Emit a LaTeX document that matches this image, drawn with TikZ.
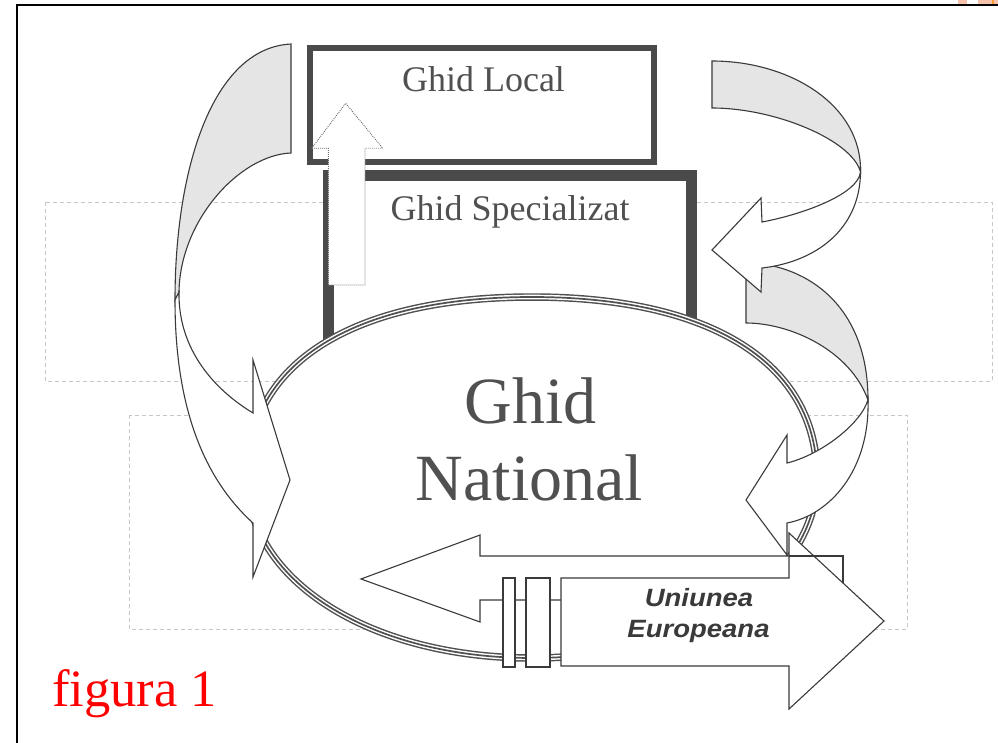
\documentclass[tikz,border=0pt]{standalone}
\usepackage{fontspec}
\setmainfont{Liberation Serif}
\newfontfamily\uefont[FakeStretch=1.1]{Liberation Sans}
\definecolor{inkc}{HTML}{505050}
\definecolor{boxc}{HTML}{4A4A4A}
\definecolor{bandc}{HTML}{E5E5E5}
\definecolor{linec}{HTML}{3A3A3A}
\definecolor{dashc}{HTML}{C6C6C6}
\definecolor{dotc}{HTML}{6A6A6A}
\definecolor{salmonc}{HTML}{F7C2AC}
\definecolor{figred}{HTML}{FF0000}
\newcommand{\GNpath}{(532,297) .. controls (711.6,297) and (817,363.6) .. (817,477) .. controls (817,580.2) and (694.5,658) .. (532,658) .. controls (369.5,658) and (247,580.2) .. (247,477) .. controls (247,363.6) and (352.4,297) .. cycle}
\tikzset{
  outl/.style={draw=linec, line width=1.1pt, line join=miter, miter limit=25},
  frontpart/.style={outl, fill=white},
  backpart/.style={outl, fill=bandc},
  dashrect/.style={draw=dashc, line width=0.8pt, dash pattern=on 4pt off 3pt},
  thickbox/.style={draw=boxc, fill=white},
  dotarrow/.style={draw=dotc, line width=0.9pt, dash pattern=on 0.9pt off 1.1pt, fill=white},
  gtext/.style={text=inkc, inner sep=0pt, anchor=base},
}
\begin{document}
\begin{tikzpicture}[x=1pt,y=-1pt]
\useasboundingbox (0,0) rectangle (998,743);
\fill[white] (0,0) rectangle (998,743);
% scan artefacts at the top right
\fill[salmonc] (958,0) rectangle (967,4);
\fill[salmonc] (978,0) rectangle (998,4);
\fill[orange!80] (992,0) rectangle (994,4);
% frame
\draw[black, line width=2pt] (16,5) -- (998,5);
\draw[black, line width=1.6pt] (17,4) -- (17,743);
% dashed placeholder rectangles
\draw[dashrect] (45,202) rectangle (992,381);
\draw[dashrect] (129,415) rectangle (907,629);
% boxes
\draw[thickbox, line width=11pt] (328.5,175.5) rectangle (691.5,430);
\draw[thickbox, line width=6pt] (310.3,48) rectangle (654,162);
% Ghid National ellipse (triple line)
\fill[white] \GNpath;
\draw[inkc, line width=7.5pt] \GNpath;
\draw[white, line width=4.6pt] \GNpath;
\draw[inkc, line width=1.7pt] \GNpath;
% dotted up arrow
\draw[dotarrow] (328.3,285) -- (328.3,148.3) -- (311.7,148.3) -- (345.7,103.3) -- (382.7,148.3) -- (365,148.3) -- (365,285) -- cycle;
% texts
\node[gtext, font=\fontsize{36}{40}\selectfont] (loc) at (483.5,92) {Ghid Local};
\node[gtext, font=\fontsize{36}{40}\selectfont] (spec) at (510,221) {Ghid Specializat};
\node[gtext, font=\fontsize{66}{70}\selectfont] (gn1) at (530.5,423) {Ghid};
\node[gtext, font=\fontsize{66}{70}\selectfont] (gn2) at (529.5,500) {National};
% left curved arrow
\draw[backpart] (291,44) .. controls (212,48) and (175,170) .. (175,300) -- (179,292) .. controls (180,220) and (240,155) .. (291,153) -- cycle;
\draw[frontpart] (179,292) .. controls (178,350) and (215,390) .. (253,413) -- (253,360) -- (290,480) -- (253,577) -- (253,523) .. controls (200,475) and (175,400) .. (175,300) -- cycle;
% lower right curved arrow
\draw[backpart] (746,263) .. controls (800,263) and (868,300) .. (868,400) .. controls (850,350) and (790,323) .. (746,323) -- cycle;
\draw[frontpart] (868,400) .. controls (860,425) and (820,455) .. (787,463) -- (787,435) -- (746,500) -- (787,555) -- (787,523) .. controls (830,515) and (870,470) .. (868,400) -- cycle;
% upper right curved arrow
\draw[backpart] (712,61) .. controls (790,61) and (862,105) .. (860.5,172) .. controls (852,140) and (775,108) .. (712,108) -- cycle;
\draw[frontpart] (860.5,172) .. controls (858,195) and (800,215) .. (762,222) -- (761,198) -- (712,250) -- (761,292) -- (762,268) .. controls (815,262) and (860,230) .. (860.5,172) -- cycle;
% block arrows
\draw[frontpart] (843,556) -- (480,556) -- (480,535) -- (361,579) -- (480,622) -- (480,600) -- (843,600) -- cycle;
\draw[frontpart] (561,578) -- (789,578) -- (789,533) -- (884,621) -- (789,709) -- (789,666) -- (561,666) -- cycle;
\draw[outl] (789,556) -- (843,556) -- (843,582.5);
% rings
\draw[frontpart] (503,578) rectangle (515,667);
\draw[frontpart] (526,578) rectangle (550,667);
\node[gtext, text=linec, font=\uefont\bfseries\itshape\fontsize{25}{29}\selectfont] (ue1) at (699,606) {Uniunea};
\node[gtext, text=linec, font=\uefont\bfseries\itshape\fontsize{25}{29}\selectfont] (ue2) at (698.5,637) {Europeana};
% caption
\node[inner sep=0pt, anchor=base west, text=figred, font=\fontsize{52.5}{56}\selectfont] (fig) at (52,706) {figura 1};
\end{tikzpicture}
\end{document}
